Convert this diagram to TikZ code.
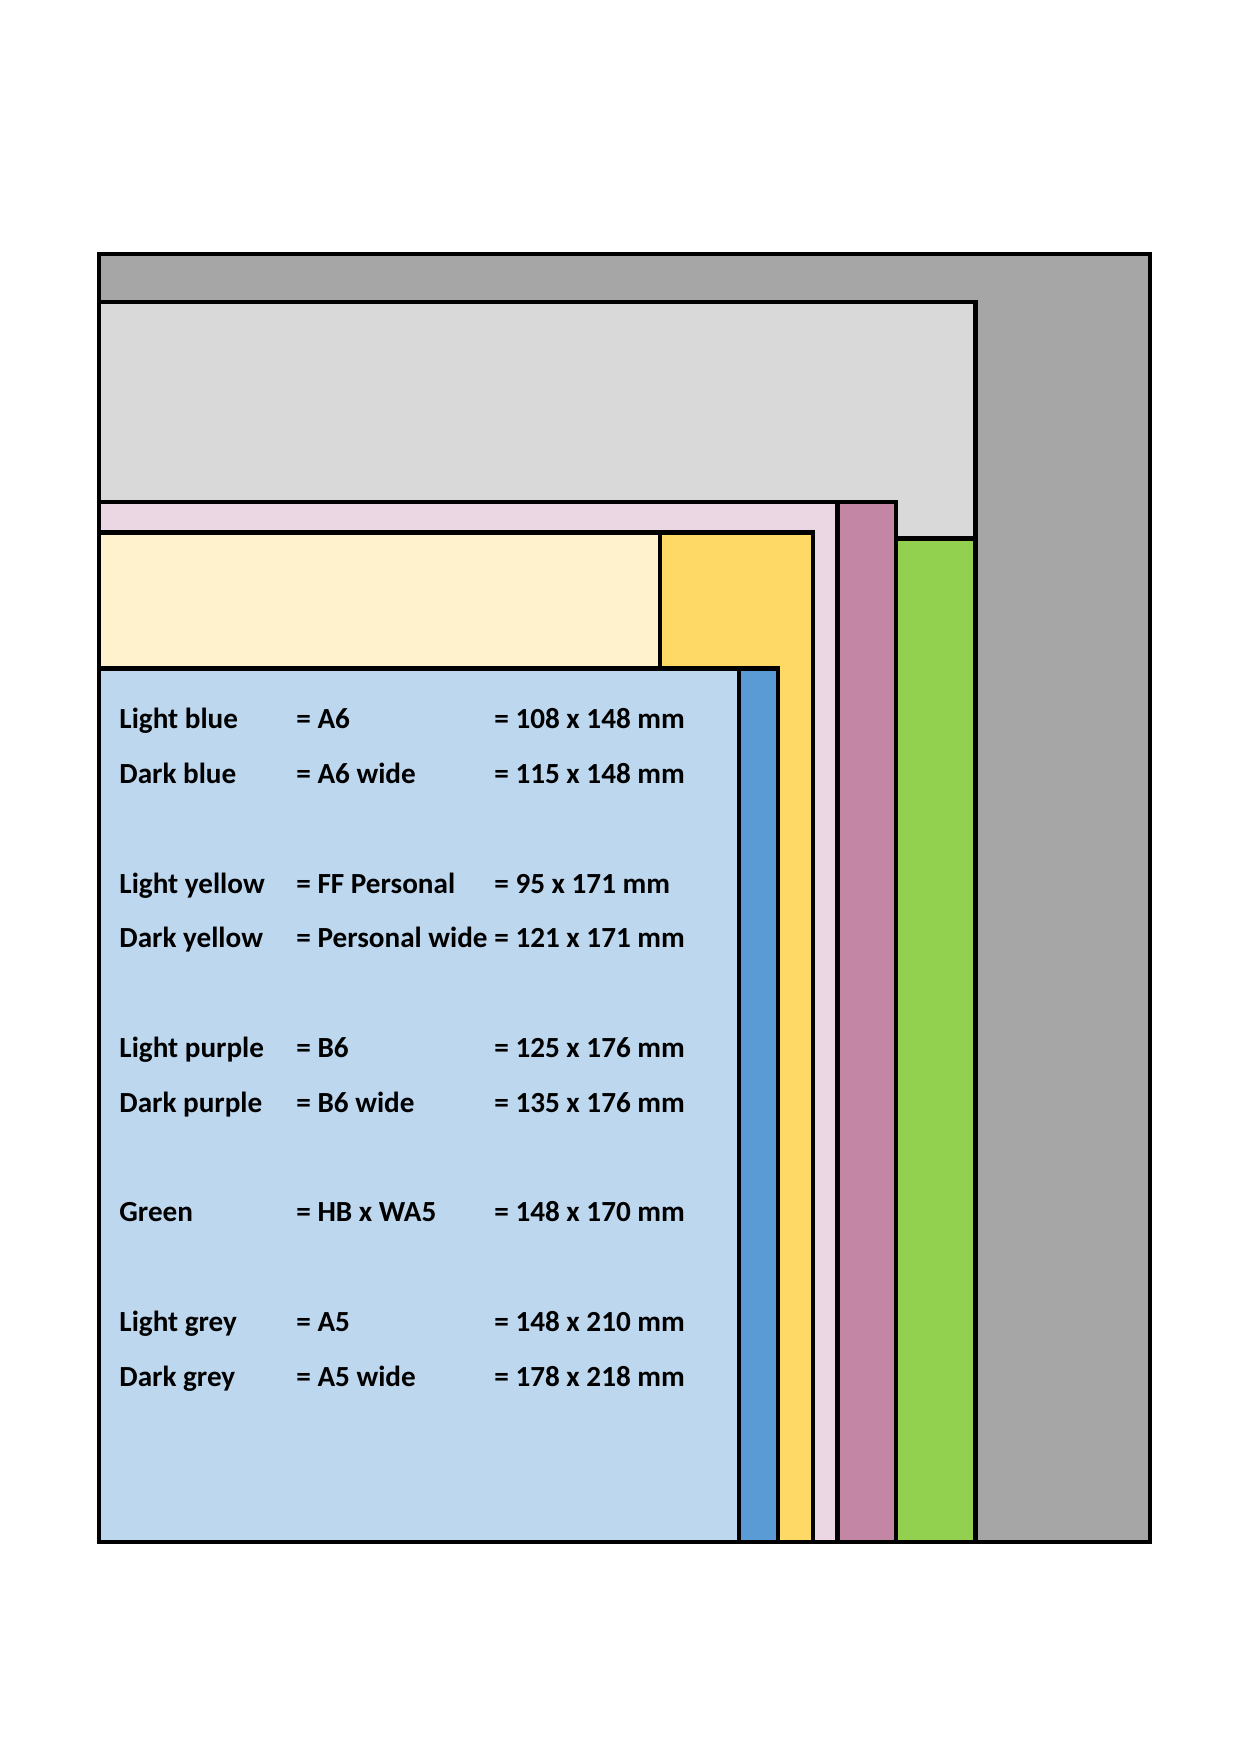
\documentclass[tikz,border=0pt]{standalone}
\usepackage{fontspec}
\setmainfont{Carlito}
\usepackage{tikz}

\definecolor{greyD}{HTML}{A6A6A6}
\definecolor{greyL}{HTML}{D9D9D9}
\definecolor{greenM}{HTML}{92D050}
\definecolor{purpleD}{HTML}{C486A5}
\definecolor{purpleL}{HTML}{EAD7E3}
\definecolor{yellowD}{HTML}{FFD966}
\definecolor{yellowL}{HTML}{FFF2CC}
\definecolor{blueD}{HTML}{5B9BD5}
\definecolor{blueL}{HTML}{BDD7EE}

\begin{document}
\begin{tikzpicture}[x=0.48pt, y=-0.48pt,
        sheet/.style={draw=black, line width=2pt},
        lbl/.style={anchor=base west, inner sep=0pt, font=\fontsize{14}{16}\selectfont\bfseries}]
        \useasboundingbox (0,0) rectangle (1240,1754);
        
        \draw[sheet, fill=greyD] (99,254) rectangle (1150,1542);
        \draw[sheet, fill=greyL] (99,302) rectangle (975.5,1542);
        \draw[sheet, fill=greenM] (99,538.5) rectangle (975.5,1542);
        \draw[sheet, fill=purpleD] (99,502) rectangle (896,1542);
        \draw[sheet, fill=purpleL] (99,502) rectangle (837.5,1542);
        \draw[sheet, fill=yellowD] (99,532.5) rectangle (813,1542);
        \draw[sheet, fill=yellowL] (99,532.5) rectangle (660,1542);
        \draw[sheet, fill=blueD] (99,668.5) rectangle (778,1542);
        \draw[sheet, fill=blueL] (99,668.5) rectangle (739,1542);
        
        \node[lbl] (LB) at (119,728.6) {Light blue};   \node[lbl] (LBf) at (296,728.6) {= A6};            \node[lbl] (LBs) at (494,728.6) {= 108 x 148 mm};
        \node[lbl] (DB) at (119,783.4) {Dark blue};    \node[lbl] (DBf) at (296,783.4) {= A6 wide};       \node[lbl] (DBs) at (494,783.4) {= 115 x 148 mm};
        
        \node[lbl] (LY) at (119,893) {Light yellow};   \node[lbl] (LYf) at (296,893) {= FF Personal};     \node[lbl] (LYs) at (494,893) {= 95 x 171 mm};
        \node[lbl] (DY) at (119,947.8) {Dark yellow};  \node[lbl] (DYf) at (296,947.8) {= Personal wide}; \node[lbl] (DYs) at (494,947.8) {= 121 x 171 mm};
        
        \node[lbl] (LP) at (119,1057.4) {Light purple}; \node[lbl] (LPf) at (296,1057.4) {= B6};          \node[lbl] (LPs) at (494,1057.4) {= 125 x 176 mm};
        \node[lbl] (DP) at (119,1112.2) {Dark purple};  \node[lbl] (DPf) at (296,1112.2) {= B6 wide};     \node[lbl] (DPs) at (494,1112.2) {= 135 x 176 mm};
        
        \node[lbl] (G) at (119,1221.8) {Green};         \node[lbl] (Gf) at (296,1221.8) {= HB x WA5};     \node[lbl] (Gs) at (494,1221.8) {= 148 x 170 mm};
        
        \node[lbl] (LG) at (119,1331.4) {Light grey};   \node[lbl] (LGf) at (296,1331.4) {= A5};          \node[lbl] (LGs) at (494,1331.4) {= 148 x 210 mm};
        \node[lbl] (DG) at (119,1386.2) {Dark grey};    \node[lbl] (DGf) at (296,1386.2) {= A5 wide};     \node[lbl] (DGs) at (494,1386.2) {= 178 x 218 mm};
\end{tikzpicture}
\end{document}
